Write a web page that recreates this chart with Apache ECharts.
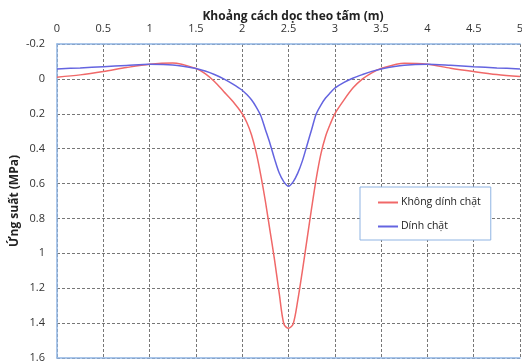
<!DOCTYPE html>
<html>
<head>
<meta charset="utf-8">
<script src="https://cdn.jsdelivr.net/npm/echarts@6/dist/echarts.min.js"></script>
<style>
  html, body { margin: 0; padding: 0; background: #fff; }
  #chart { width: 522px; height: 364px; }
</style>
</head>
<body>
<div id="chart"></div>
<script>
// Không dính chặt (đỏ)
const xRed = [0, 0.25, 0.5, 0.75, 1.0, 1.25, 1.5, 1.6, 1.7, 1.8, 1.9,
  2.0, 2.05, 2.1, 2.15, 2.2, 2.25, 2.3, 2.35, 2.4, 2.45, 2.5,
  2.55, 2.6, 2.65, 2.7, 2.75, 2.8, 2.85, 2.9, 2.95, 3.0,
  3.1, 3.2, 3.3, 3.4, 3.5, 3.75, 4.0, 4.25, 4.5, 4.75, 5.0];
const yRed = [-0.01, -0.023, -0.042, -0.065, -0.084, -0.091, -0.06, -0.03, 0.015, 0.072, 0.13,
  0.2, 0.25, 0.32, 0.42, 0.55, 0.7, 0.87, 1.04, 1.23, 1.405, 1.43,
  1.405, 1.27, 1.1, 0.92, 0.74, 0.57, 0.43, 0.33, 0.26, 0.2,
  0.12, 0.05, 0.0, -0.035, -0.06, -0.09, -0.084, -0.061, -0.042, -0.025, -0.013];

// Dính chặt (xanh)
const xBlue = [0, 0.25, 0.5, 0.75, 1.0, 1.25, 1.5, 1.6, 1.7, 1.8, 1.9,
  2.0, 2.05, 2.1, 2.15, 2.2, 2.25, 2.3, 2.35, 2.4, 2.45, 2.5,
  2.55, 2.6, 2.65, 2.7, 2.75, 2.8, 2.85, 2.9, 2.95, 3.0,
  3.1, 3.2, 3.3, 3.4, 3.5, 3.75, 4.0, 4.25, 4.5, 4.75, 5.0];
const yBlue = [-0.057, -0.063, -0.07, -0.077, -0.084, -0.08, -0.06, -0.045, -0.025, 0.0, 0.03,
  0.065, 0.09, 0.12, 0.16, 0.21, 0.29, 0.37, 0.46, 0.54, 0.59, 0.615,
  0.59, 0.54, 0.47, 0.38, 0.29, 0.2, 0.15, 0.11, 0.08, 0.053,
  0.02, -0.005, -0.025, -0.043, -0.057, -0.078, -0.084, -0.078, -0.07, -0.063, -0.057];

const seriesNames = ["Không dính chặt", "Dính chặt"];

function pairs(xs, ys) {
  return xs.map((x, i) => [x, ys[i]]);
}

const fmt = v => String(Math.round(v * 10) / 10);
const labelFont = { color: "#333", fontSize: 11, fontFamily: "Open Sans" };
const edge = { show: true, onZero: false, lineStyle: { color: "#8fb4e3", width: 1.5 } };
const dashed = { show: true, lineStyle: { color: "#777", type: [3, 2], width: 1 } };

const chart = echarts.init(document.getElementById("chart"));
chart.setOption({
  animation: false,
  grid: { left: 57, right: 2, top: 44, bottom: 6, outerBoundsMode: "none", containLabel: false },
  title: {
    text: "Khoảng cách dọc theo tấm (m)",
    left: 288, top: 6, textAlign: "center",
    textStyle: { fontSize: 12, fontWeight: "bold", color: "#222", fontFamily: "Open Sans" }
  },
  legend: {
    orient: "vertical",
    left: 360, top: 187,
    padding: [10, 10, 8, 18],
    itemGap: 13,
    itemWidth: 20, itemHeight: 2,
    icon: "rect",
    borderColor: "#8fb4e3", borderWidth: 1,
    backgroundColor: "#fff",
    textStyle: { fontSize: 10.5, color: "#222", fontFamily: "Open Sans", padding: [0, 0, 0, -2] },
    data: seriesNames
  },
  xAxis: [
    {
      type: "value", position: "top", min: 0, max: 5, interval: 0.5,
      axisLine: edge, axisTick: { show: false },
      axisLabel: Object.assign({ formatter: fmt, margin: 10 }, labelFont),
      splitLine: dashed
    },
    {
      type: "value", position: "bottom", min: 0, max: 5,
      axisLine: edge, axisTick: { show: false }, axisLabel: { show: false }, splitLine: { show: false }
    }
  ],
  yAxis: {
    type: "value", inverse: true, min: -0.2, max: 1.6, interval: 0.2,
    name: "Ứng suất (MPa)", nameLocation: "middle", nameGap: 36, nameRotate: 90,
    nameMoveOverlap: false,
    nameTextStyle: { fontSize: 12, fontWeight: "bold", color: "#222", fontFamily: "Open Sans" },
    axisLine: edge, axisTick: { show: false },
    axisLabel: Object.assign({ formatter: fmt, margin: 12 }, labelFont),
    splitLine: dashed
  },
  series: [
    {
      name: seriesNames[0], type: "line", smooth: 0.3, symbol: "none",
      lineStyle: { color: "#f06868", width: 1.5 }, itemStyle: { color: "#f06868" },
      data: pairs(xRed, yRed)
    },
    {
      name: seriesNames[1], type: "line", smooth: 0.3, symbol: "none",
      lineStyle: { color: "#6464e0", width: 1.5 }, itemStyle: { color: "#6464e0" },
      data: pairs(xBlue, yBlue)
    }
  ]
});
</script>
</body>
</html>
